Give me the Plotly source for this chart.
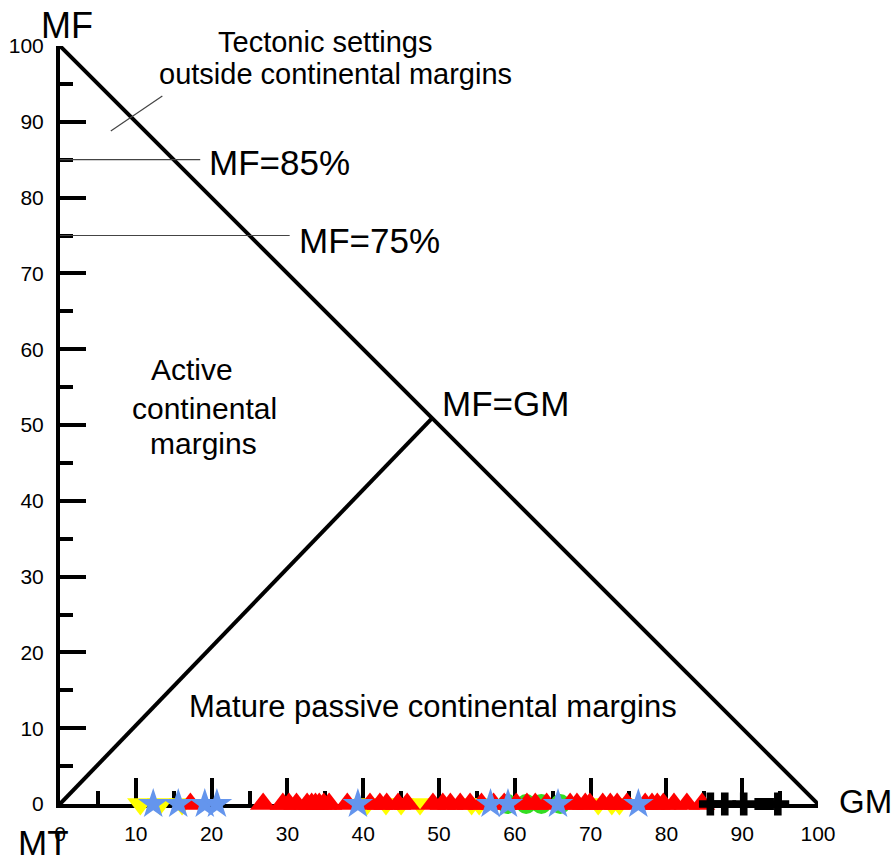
import plotly.graph_objects as go

# Sample positions along the GM axis (all samples have MF = 0)
red_tri_x = [17.2, 26.8, 29.4, 30.2, 31.2, 32.6, 33.2, 33.7, 34.2, 34.8, 35.5,
             37.9, 40.9, 42.2, 43.1, 44.6, 45.8, 49.2, 50.5, 51.5, 52.8, 54.1,
             55.6, 57.2, 58.6, 60.2, 61.6, 62.7, 64.2, 67.3, 68.2, 69.3, 69.9,
             71.6, 72.6, 73.5, 74.8, 77.2, 78.1, 78.8, 79.6, 81.0, 82.7, 84.7]
red_tri_y = [0] * len(red_tri_x)

yellow_tri_x = [10.6, 13.2, 16.1, 40.5, 43.0, 45.0, 47.5, 54.3, 55.3, 71.0, 72.8, 73.8]
yellow_tri_y = [0] * len(yellow_tri_x)

green_x = [59.0, 61.5, 63.5, 66.0]
green_y = [0] * len(green_x)

star_x = [12.3, 15.6, 19.1, 20.7, 39.3, 56.8, 59.1, 65.7, 76.3]
star_y = [0] * len(star_x)

cross_x = [85.8, 87.7, 90.2, 94.7]
cross_y = [0] * len(cross_x)

square_x = [92.4, 93.4]
square_y = [0] * len(square_x)

# Boundary lines of the MF-MT-GM diagram
outer_x = [0, 100]
outer_y = [100, 0]
split_x = [0, 49.1]
split_y = [0, 50.9]
mf85_x = [0, 18.5]
mf85_y = [85, 85]
mf75_x = [0, 30.3]
mf75_y = [75, 75]
pointer_x = [6.7, 13.5]
pointer_y = [88.8, 93.4]

FONT = "Liberation Sans, Arial, sans-serif"

fig = go.Figure()

def line(xs, ys, width, color):
    fig.add_trace(go.Scatter(x=xs, y=ys, mode="lines",
                             line=dict(color=color, width=width),
                             hoverinfo="skip", showlegend=False, cliponaxis=False))

line(outer_x, outer_y, 4, "black")
line(split_x, split_y, 4, "black")
line(mf85_x, mf85_y, 1.2, "#444444")
line(mf75_x, mf75_y, 1.2, "#444444")
line(pointer_x, pointer_y, 1.2, "#444444")

def pts(xs, ys, symbol, size, color):
    fig.add_trace(go.Scatter(x=xs, y=ys, mode="markers",
                             marker=dict(symbol=symbol, size=size, color=color,
                                         line=dict(width=0)),
                             showlegend=False, cliponaxis=False))

pts(yellow_tri_x, yellow_tri_y, "triangle-down", 23, "#FFFF00")
pts(green_x, green_y, "circle", 20, "#33DD22")
pts(red_tri_x, red_tri_y, "triangle-up", 23, "#FF0000")
pts(star_x, star_y, "star", 23, "#6495ED")
pts(cross_x, cross_y, "cross", 19, "black")
pts(square_x, square_y, "square", 12, "black")

# Labels are placed in paper units (the axes span 0-100 over the full plot area)
def text(x, y, s, size, xanchor="center", yanchor="middle"):
    fig.add_annotation(x=x / 100, y=y / 100, text=s, showarrow=False,
                       xref="paper", yref="paper",
                       xanchor=xanchor, yanchor=yanchor,
                       font=dict(family=FONT, size=size, color="black"))

text(34.9, 100.5, "Tectonic settings", 29)
text(36.3, 96.3, "outside continental margins", 29)
text(19.4, 84.6, "MF=85%", 35, "left")
text(31.3, 74.4, "MF=75%", 35, "left")
text(17.4, 57.3, "Active", 30)
text(19.1, 52.2, "continental", 30)
text(18.9, 47.6, "margins", 30)
text(50.1, 52.8, "MF=GM", 35, "left")
text(49.2, 12.8, "Mature passive continental margins", 31)
text(0.9, 102.7, "MF", 36)
text(-2.2, -7.9, "MT", 35, yanchor="bottom")
text(102.5, 0.3, "GM", 33, "left")

axis_common = dict(
    range=[0, 100], showgrid=False, zeroline=False,
    showline=True, linecolor="black", linewidth=4,
    ticks="inside", ticklen=26, tickwidth=4, tickcolor="black",
    tick0=0, dtick=10,
    minor=dict(ticks="inside", ticklen=13, tickwidth=4, tickcolor="black", dtick=5),
    tickfont=dict(family=FONT, size=21, color="black"),
    ticklabelstandoff=8,
    layer="below traces",
    automargin=False,
)

fig.update_layout(
    width=892, height=864,
    margin=dict(l=60, r=74, t=46, b=60),
    paper_bgcolor="white", plot_bgcolor="white",
    xaxis=dict(**axis_common, mirror=False),
    yaxis=dict(**axis_common, mirror=False),
)

fig.write_html("out.html")
